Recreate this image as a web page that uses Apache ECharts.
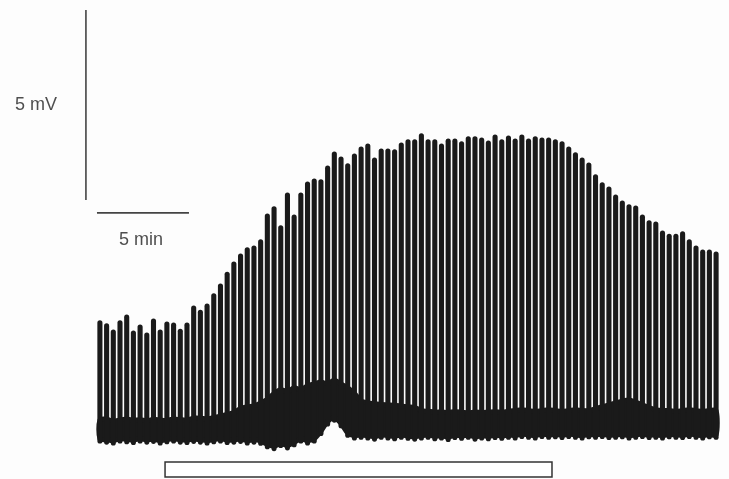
<!DOCTYPE html>
<html><head><meta charset="utf-8">
<script src="https://cdn.jsdelivr.net/npm/echarts@6/dist/echarts.min.js"></script>
<style>html,body{margin:0;padding:0;background:#fdfdfd}#c{width:729px;height:479px}</style>
</head><body><div id="c"></div>
<script>
// Spike train: regular stimulation, one spike every ~22 s (minutes)
const spikeStart = 0.83;
const spikeInterval = 0.364;
// Peak potential of each spike (mV, relative to baseline)
const peaks = [2.86,2.78,2.62,2.86,3.01,2.59,2.75,2.54,2.91,2.62,2.83,2.80,2.64,2.80,3.25,
3.14,3.30,3.57,3.83,4.14,4.41,4.62,4.78,4.83,4.99,5.67,5.86,5.36,6.22,5.64,6.22,6.51,
6.59,6.57,6.93,7.30,7.17,6.99,7.25,7.43,7.51,7.14,7.38,7.38,7.36,7.54,7.62,7.62,
7.78,7.62,7.62,7.51,7.64,7.64,7.57,7.70,7.70,7.67,7.59,7.75,7.62,7.72,7.64,
7.75,7.64,7.70,7.67,7.67,7.62,7.57,7.43,7.28,7.14,7.01,6.70,6.49,6.38,6.17,
6.01,5.91,5.88,5.64,5.49,5.46,5.22,5.14,5.14,5.20,4.99,4.83,4.72,4.72,4.67];
// Top of the dense inter-spike baseline band (mV)
const floorTop = [0.25,0.27,0.22,0.25,0.28,0.24,0.26,0.23,0.27,0.25,0.24,0.28,0.26,0.25,0.30,
0.30,0.28,0.32,0.35,0.40,0.45,
0.55,0.60,0.62,0.70,0.80,
0.95,1.05,1.00,1.10,1.05,
1.15,1.20,1.25,1.20,
1.30,1.20,1.10,0.95,
0.75,0.70,0.68,0.66,0.65,0.64,0.62,0.60,0.58,
0.50,0.48,0.46,0.46,0.45,0.47,0.46,0.44,0.46,0.45,0.46,0.47,0.45,0.48,0.50,
0.52,0.50,0.48,0.50,0.52,0.50,0.48,0.50,0.52,0.50,0.50,0.55,0.60,0.65,0.70,
0.75,0.78,0.72,0.65,0.58,
0.52,0.50,0.50,0.48,0.50,0.52,0.50,0.48,0.50,0.50];
// Lowest excursion of the trace at each spike (mV)
const troughs = [-0.30,-0.33,-0.35,-0.30,-0.32,-0.34,-0.30,-0.33,-0.31,-0.35,-0.32,-0.30,-0.33,-0.34,-0.31,-0.33,-0.35,-0.32,-0.30,-0.34,-0.33,-0.31,-0.35,-0.33,-0.36,
-0.45,-0.50,-0.42,-0.48,-0.40,
-0.30,-0.35,-0.30,-0.10,
0.15,0.25,0.10,-0.15,-0.22,
-0.20,-0.22,-0.25,-0.20,-0.22,-0.24,-0.20,-0.23,-0.25,-0.22,-0.20,-0.24,-0.22,-0.26,-0.21,-0.23,-0.20,-0.25,-0.22,-0.24,-0.21,-0.23,-0.20,-0.22,
-0.18,-0.20,-0.22,-0.18,-0.20,-0.19,-0.21,-0.18,-0.20,-0.22,-0.19,-0.20,-0.18,-0.21,-0.20,-0.19,-0.22,-0.20,-0.18,-0.21,-0.20,-0.22,-0.19,-0.20,-0.21,-0.18,-0.20,-0.22,-0.19,-0.20];
// Scale bars (minutes, mV)
const vBar = [[0.07, 6.04],[0.07, 11.04]];
const hBar = [[0.67, 5.70],[5.67, 5.70]];
const scaleLabels = [{value:[-2.64, 8.54], text:'5 mV'},{value:[3.06, 4.99], text:'5 min'}];
// Drug application period (minutes)
const stimulus = [[4.37, 25.40, -0.855, -1.25]];

const spikeTimes = peaks.map((_, i) => +(spikeStart + i * spikeInterval).toFixed(3));
const spikeData = peaks.map((p, i) => [spikeTimes[i], p, troughs[i]]);

const chart = echarts.init(document.getElementById('c'));
chart.setOption({
  animation: false,
  backgroundColor: '#fdfdfd',
  grid: {left: 0, right: 0, top: 0, bottom: 0},
  xAxis: {type: 'value', min: -4.6, max: 35.02, show: false},
  yAxis: {type: 'value', min: -1.3, max: 11.3, show: false},
  series: [
    {
      type: 'custom', name: 'band', data: [[0]], silent: true,
      renderItem: function (params, api) {
        const pts = [];
        for (let i = 0; i < spikeTimes.length; i++) pts.push(api.coord([spikeTimes[i], floorTop[i]]));
        for (let i = spikeTimes.length - 1; i >= 0; i--) pts.push(api.coord([spikeTimes[i], troughs[i] + 0.06]));
        return {type: 'polygon', shape: {points: pts, smooth: 0.3}, style: {fill: '#1a1a1a', stroke: '#1a1a1a', lineWidth: 5, lineJoin: 'round'}};
      }
    },
    {
      type: 'custom', name: 'spikes', data: spikeData, silent: true,
      renderItem: function (params, api) {
        const a = api.coord([api.value(0), api.value(1)]);
        const b = api.coord([api.value(0), api.value(2)]);
        return {type: 'line', shape: {x1: a[0], y1: a[1] + 2, x2: b[0], y2: b[1]},
          style: {stroke: '#1a1a1a', lineWidth: 5.1, lineCap: 'round'}};
      }
    },
    {
      type: 'line', data: vBar, symbol: 'none', silent: true,
      lineStyle: {color: '#444', width: 1.6}
    },
    {
      type: 'line', data: hBar, symbol: 'none', silent: true,
      lineStyle: {color: '#444', width: 1.6}
    },
    {
      type: 'scatter', data: scaleLabels.map(d => ({value: d.value, name: d.text})),
      symbolSize: 0, clip: false, silent: true,
      label: {show: true, position: 'inside', formatter: p => p.name,
        color: '#222', fontSize: 18, fontFamily: 'Liberation Sans, Arial, sans-serif'}
    },
    {
      type: 'custom', name: 'stimulus', data: stimulus, silent: true,
      renderItem: function (params, api) {
        const p1 = api.coord([api.value(0), api.value(2)]);
        const p2 = api.coord([api.value(1), api.value(3)]);
        return {type: 'rect', shape: {x: p1[0], y: p1[1], width: p2[0] - p1[0], height: p2[1] - p1[1]},
          style: {fill: '#ffffff', stroke: '#333', lineWidth: 1.5}};
      }
    }
  ]
});
</script></body></html>
